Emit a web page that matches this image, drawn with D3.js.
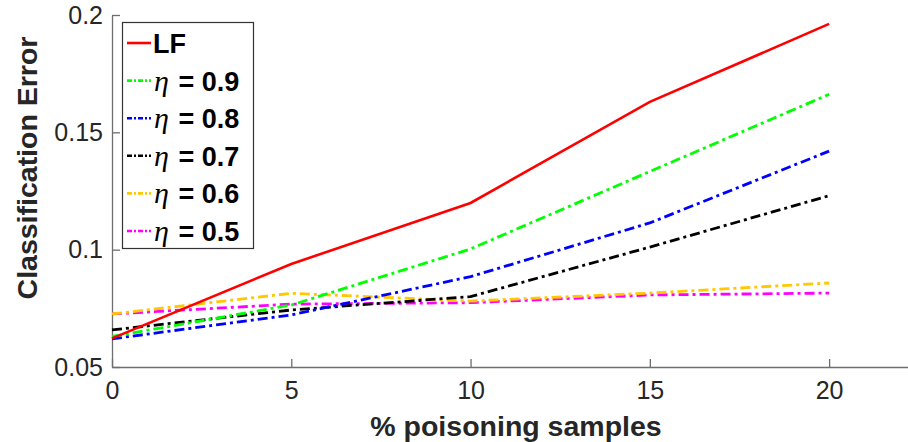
<!DOCTYPE html>
<html>
<head>
<meta charset="utf-8">
<script src="https://cdn.jsdelivr.net/npm/d3@7"></script>
<style>
  html, body { margin: 0; padding: 0; background: #fff; }
  svg { display: block; font-family: "Liberation Sans", Arial, Helvetica, sans-serif; }
</style>
</head>
<body>
<svg id="chart" width="908" height="442"></svg>
<script>
// data
const poisoningPct = [0, 5, 10, 15, 20];
const lfError = [0.0622, 0.0939, 0.1199, 0.1630, 0.1962];
const eta09Error = [0.0630, 0.0764, 0.1003, 0.1333, 0.1662];
const eta08Error = [0.0620, 0.0722, 0.0885, 0.1114, 0.1420];
const eta07Error = [0.0658, 0.0743, 0.0800, 0.1011, 0.1230];
const eta06Error = [0.0726, 0.0814, 0.0781, 0.0815, 0.0858];
const eta05Error = [0.0726, 0.0768, 0.0774, 0.0807, 0.0815];
const xTicks = [0, 5, 10, 15, 20];
const yTicks = [0.05, 0.1, 0.15, 0.2];

const series = [
  { label: "LF", eta: null, values: lfError, color: "#ff0000", dash: null },
  { label: "0.9", eta: true, values: eta09Error, color: "#00ff00", dash: "10,4,3,4" },
  { label: "0.8", eta: true, values: eta08Error, color: "#0000ff", dash: "10,4,3,4" },
  { label: "0.7", eta: true, values: eta07Error, color: "#000000", dash: "10,4,3,4" },
  { label: "0.6", eta: true, values: eta06Error, color: "#ffc800", dash: "10,4,3,4" },
  { label: "0.5", eta: true, values: eta05Error, color: "#ff00ff", dash: "10,4,3,4" },
];

const svg = d3.select("#chart");
const plot = { left: 112, right: 908, top: 15, bottom: 367 };

const x = d3.scaleLinear().domain([0, 22.2]).range([plot.left, plot.right]);
const y = d3.scaleLinear().domain([0.05, 0.2]).range([plot.bottom, plot.top]);

const axisColor = "#6e6e6e";
const textColor = "#262626";

// x axis (ticks point inward)
const xAxis = svg.append("g")
  .attr("transform", `translate(0,${plot.bottom})`)
  .call(d3.axisBottom(x).tickValues(xTicks).tickSizeInner(-8).tickSizeOuter(0).tickPadding(14));
xAxis.select(".domain").attr("stroke", axisColor).attr("stroke-width", 1.3);
xAxis.selectAll(".tick line").attr("stroke", axisColor).attr("stroke-width", 1.3);
xAxis.selectAll(".tick text")
  .attr("fill", textColor)
  .attr("font-size", 25)
  .attr("font-family", "Liberation Sans, Arial, sans-serif");

// y axis
const yAxis = svg.append("g")
  .attr("transform", `translate(${plot.left},0)`)
  .call(d3.axisLeft(y).tickValues(yTicks).tickFormat(d3.format("~g"))
    .tickSizeInner(-8).tickSizeOuter(0).tickPadding(9));
yAxis.select(".domain").attr("stroke", axisColor).attr("stroke-width", 1.3);
yAxis.selectAll(".tick line").attr("stroke", axisColor).attr("stroke-width", 1.3);
yAxis.selectAll(".tick text")
  .attr("fill", textColor)
  .attr("font-size", 25)
  .attr("font-family", "Liberation Sans, Arial, sans-serif");

// axis labels
svg.append("text")
  .attr("x", 516)
  .attr("y", 436)
  .attr("text-anchor", "middle")
  .attr("font-size", 28.5)
  .attr("font-weight", 700)
  .attr("fill", textColor)
  .text("% poisoning samples");

svg.append("text")
  .attr("transform", "translate(37,168) rotate(-90)")
  .attr("text-anchor", "middle")
  .attr("font-size", 28.5)
  .attr("font-weight", 700)
  .attr("fill", textColor)
  .text("Classification Error");

// lines
const line = d3.line()
  .x((d, i) => x(poisoningPct[i]))
  .y((d) => y(d));

const lines = svg.append("g");
series.slice().reverse().forEach((s) => {
  lines.append("path")
    .datum(s.values)
    .attr("d", line)
    .attr("fill", "none")
    .attr("stroke", s.color)
    .attr("stroke-width", s.dash ? 2.8 : 2.6)
    .attr("stroke-dasharray", s.dash);
});

// legend
const legend = svg.append("g");
legend.append("rect")
  .attr("x", 122.5)
  .attr("y", 22.5)
  .attr("width", 131)
  .attr("height", 226)
  .attr("fill", "#fff")
  .attr("stroke", "#333")
  .attr("stroke-width", 1.2);

const rowY = d3.scalePoint().domain(series.map((s, i) => i)).range([43, 231]);

series.forEach((s, i) => {
  const cy = rowY(i);
  legend.append("line")
    .attr("x1", 127).attr("x2", 151)
    .attr("y1", cy).attr("y2", cy)
    .attr("stroke", s.color)
    .attr("stroke-width", 2.6)
    .attr("stroke-dasharray", s.dash ? "5,2,2,2" : null);
  const t = legend.append("text")
    .attr("x", 153)
    .attr("y", cy + 10)
    .attr("font-size", 27)
    .attr("fill", "#000");
  if (s.eta) {
    t.append("tspan")
      .attr("font-family", "Liberation Serif, DejaVu Serif, serif")
      .attr("font-style", "italic")
      .attr("font-size", 30)
      .attr("dx", 1)
      .text("η");
    t.append("tspan")
      .attr("font-weight", 700)
      .attr("dx", 2)
      .text(" = " + s.label);
  } else {
    t.append("tspan").attr("font-weight", 700).text(s.label);
  }
});
</script>
</body>
</html>
